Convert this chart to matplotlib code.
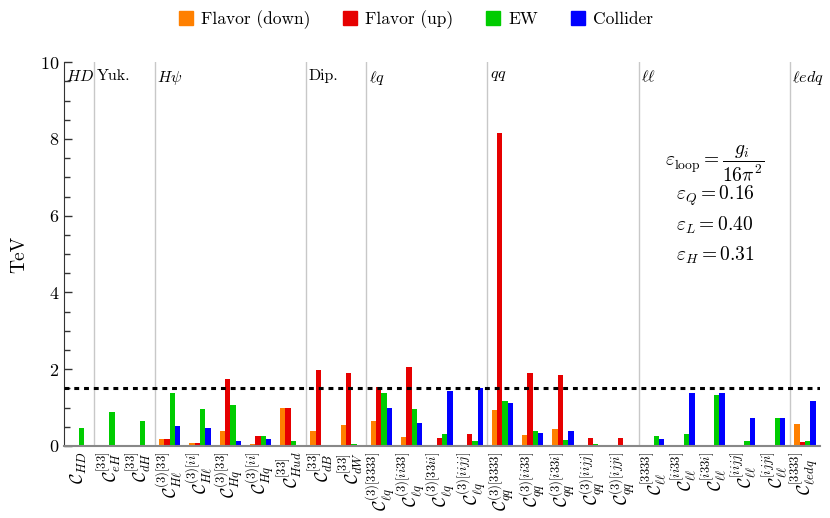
import matplotlib
matplotlib.use("Agg")
import matplotlib.pyplot as plt
from matplotlib.lines import Line2D
from matplotlib.ticker import MultipleLocator
import numpy as np

plt.rcParams["font.family"] = "cmr10"
plt.rcParams["mathtext.fontset"] = "cm"
plt.rcParams["axes.formatter.use_mathtext"] = True

# Wilson coefficients (x axis)
etiketler = [
    r"$\mathcal{C}_{HD}$",
    r"$\mathcal{C}^{[33]}_{eH}$",
    r"$\mathcal{C}^{[33]}_{dH}$",
    r"$\mathcal{C}^{(3)[33]}_{H\ell}$",
    r"$\mathcal{C}^{(3)[ii]}_{H\ell}$",
    r"$\mathcal{C}^{(3)[33]}_{Hq}$",
    r"$\mathcal{C}^{(3)[ii]}_{Hq}$",
    r"$\mathcal{C}^{[33]}_{Hud}$",
    r"$\mathcal{C}^{[33]}_{dB}$",
    r"$\mathcal{C}^{[33]}_{dW}$",
    r"$\mathcal{C}^{(3)[3333]}_{\ell q}$",
    r"$\mathcal{C}^{(3)[ii33]}_{\ell q}$",
    r"$\mathcal{C}^{(3)[33ii]}_{\ell q}$",
    r"$\mathcal{C}^{(3)[iijj]}_{\ell q}$",
    r"$\mathcal{C}^{(3)[3333]}_{qq}$",
    r"$\mathcal{C}^{(3)[ii33]}_{qq}$",
    r"$\mathcal{C}^{(3)[i33i]}_{qq}$",
    r"$\mathcal{C}^{(3)[iijj]}_{qq}$",
    r"$\mathcal{C}^{(3)[ijji]}_{qq}$",
    r"$\mathcal{C}^{[3333]}_{\ell\ell}$",
    r"$\mathcal{C}^{[ii33]}_{\ell\ell}$",
    r"$\mathcal{C}^{[i33i]}_{\ell\ell}$",
    r"$\mathcal{C}^{[iijj]}_{\ell\ell}$",
    r"$\mathcal{C}^{[ijji]}_{\ell\ell}$",
    r"$\mathcal{C}^{[3333]}_{\ell edq}$",
]

# bounds in TeV
flavor_down = [0.03, 0, 0, 0.19, 0.08, 0.40, 0.06, 1.00, 0.40, 0.56, 0.66, 0.24, 0.02,
               0.02, 0.95, 0.29, 0.43, 0.02, 0.02, 0.01, 0.01, 0.01, 0.01, 0.0, 0.58]
flavor_up = [0.03, 0, 0, 0.19, 0.08, 1.75, 0.27, 1.00, 1.99, 1.89, 1.55, 2.07, 0.22,
             0.32, 8.16, 1.89, 1.84, 0.21, 0.22, 0.01, 0.01, 0.02, 0, 0, 0.10]
ew = [0.48, 0.89, 0.64, 1.39, 0.97, 1.08, 0.27, 0.14, 0.01, 0.05, 1.39, 0.97, 0.32,
      0.14, 1.16, 0.38, 0.15, 0.04, 0.03, 0.27, 0.32, 1.32, 0.14, 0.73, 0.12]
collider = [0.01, 0, 0, 0.52, 0.48, 0.12, 0.17, 0, 0.02, 0.03, 1.00, 0.59, 1.42,
            1.50, 1.12, 0.34, 0.39, 0, 0, 0.19, 1.38, 1.37, 0.73, 0.72, 1.18]

seriler = [
    ("Flavor (down)", flavor_down, "#ff8000"),
    ("Flavor (up)", flavor_up, "#e60000"),
    ("EW", ew, "#00cc00"),
    ("Collider", collider, "#0000ff"),
]

# operator classes
grup_adlari = [r"$HD$", "Yuk.", r"$H\psi$", "Dip.", r"$\ell q$", r"$qq$", r"$\ell\ell$", r"$\ell edq$"]
grup_baslangic = [0, 1, 3, 8, 10, 14, 19, 24]

esik = 1.5

epsilon_satirlari = [
    r"$\varepsilon_{\mathrm{loop}} = \dfrac{g_i}{16\pi^2}$",
    r"$\varepsilon_Q = 0.16$",
    r"$\varepsilon_L = 0.40$",
    r"$\varepsilon_H = 0.31$",
]
epsilon_y = [7.36, 6.52, 5.74, 4.96]

fig = plt.figure(figsize=(8.3, 5.18), dpi=100)
ax = fig.add_axes([0.077, 0.139, 0.911, 0.741])

x = np.arange(len(etiketler))
genislik = 0.175
for i, (ad, deger, renk) in enumerate(seriler):
    ax.bar(x + (i - 1.5) * genislik, deger, genislik, color=renk, label=ad, zorder=2)

# group separators
for b in grup_baslangic[1:]:
    ax.axvline(b - 0.5, color="#c8c8c8", linewidth=1.0, zorder=1)
for ad, b in zip(grup_adlari, grup_baslangic):
    ax.text(b - 0.42, 9.82, ad, fontsize=11.5, ha="left", va="top")

ax.axhline(esik, color="black", linewidth=2.2, linestyle=(0, (1.6, 1.6)), zorder=3)

for satir, yy in zip(epsilon_satirlari, epsilon_y):
    ax.text(21.03, yy, satir, fontsize=14, ha="center", va="center")

ax.set_xlim(-0.5, len(etiketler) - 0.5)
ax.set_ylim(0, 10)
ax.set_xticks(x)
ax.set_xticklabels(etiketler, rotation=90, fontsize=13)
ax.tick_params(axis="x", length=0, pad=4)
ax.yaxis.set_major_locator(MultipleLocator(2))
ax.yaxis.set_minor_locator(MultipleLocator(0.5))
ax.set_yticks(np.arange(0, 11, 2))
ax.set_yticklabels([f"${v}$" for v in range(0, 11, 2)], fontsize=13)
ax.tick_params(axis="y", which="major", direction="in", length=6, width=1, color="#333333")
ax.tick_params(axis="y", which="minor", direction="in", length=4, width=1, color="#333333")
ax.set_ylabel("TeV", fontsize=14, labelpad=8)

ax.spines["top"].set_visible(False)
ax.spines["right"].set_visible(False)
ax.spines["left"].set_color("#333333")
ax.spines["bottom"].set_color("#888888")
ax.spines["bottom"].set_linewidth(1.5)

tutamaclar = [Line2D([0], [0], marker="s", linestyle="", markersize=10,
                     markerfacecolor=renk, markeredgecolor=renk) for _, _, renk in seriler]
fig.legend(tutamaclar, [s[0] for s in seriler], loc="upper center",
           bbox_to_anchor=(0.5, 1.01), ncol=4, frameon=False, fontsize=12.5,
           handletextpad=0.35, columnspacing=1.8, handlelength=1.0)

fig.savefig("out.png", dpi=100)
